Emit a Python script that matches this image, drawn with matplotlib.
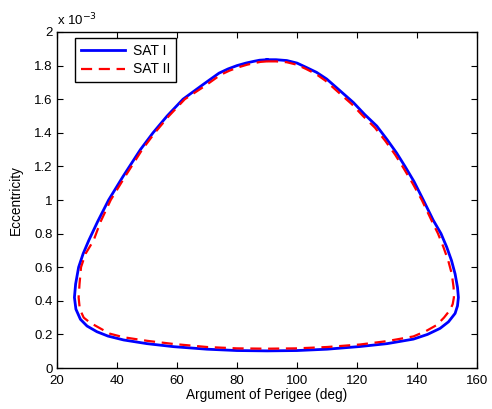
import numpy as np
import matplotlib
matplotlib.use('Agg')
import matplotlib.pyplot as plt
from matplotlib.ticker import FuncFormatter

plt.rcParams['font.family'] = ['Liberation Sans', 'DejaVu Sans']

# argument of perigee (deg) and eccentricity (x 1e-3)
sat1_omega = [90, 93, 96.6, 100, 103, 106.5, 109.9, 115, 118.8, 122.5, 126.6, 130, 133.2,
              136, 139, 142.1, 145.4, 148, 149.9, 151.5, 152.7, 153.5, 153.8, 153.5, 152.7,
              150.5, 147.7, 143.5, 138.8, 130, 121, 110, 100, 90, 80, 70, 58.9, 50, 42.2,
              37, 33.3, 30, 27.8, 26.3, 25.8, 26.2, 27.2, 28.7, 30.6, 33.5, 37.2, 42, 47.8,
              52, 56.7, 62, 68.9, 74, 77, 80, 83, 85.5, 87.5, 90]
sat1_ecc = [1.835, 1.835, 1.83, 1.815, 1.79, 1.76, 1.72, 1.64, 1.58, 1.51, 1.44, 1.36, 1.28,
            1.20, 1.11, 1.0, 0.88, 0.80, 0.72, 0.64, 0.56, 0.48, 0.42, 0.37, 0.325,
            0.275, 0.236, 0.20, 0.172, 0.145, 0.128, 0.112, 0.104, 0.102, 0.104, 0.112,
            0.127, 0.145, 0.167, 0.19, 0.216, 0.25, 0.29, 0.35, 0.42, 0.50, 0.60, 0.68,
            0.76, 0.87, 1.0, 1.14, 1.30, 1.40, 1.50, 1.60, 1.69, 1.755, 1.78, 1.80, 1.815,
            1.825, 1.832, 1.835]

sat2_omega = [90, 93, 96.6, 100, 103, 106.3, 109.5, 114.5, 118.3, 122, 126, 129.5, 132.7,
              135.5, 138.5, 141.6, 144.8, 147, 148.8, 150.4, 151.6, 152.2, 152.3, 151.9,
              151, 149, 146.6, 143, 138.8, 130, 121, 110, 100, 90, 80, 70, 58.9, 50, 42.2,
              37.5, 34.4, 31, 28.9, 27.6, 27.2, 27.5, 28.0, 29.5, 32.2, 34.5, 37.9, 42.7,
              48.4, 52.6, 57.3, 62.6, 69.4, 74.5, 77.5, 80.5, 83.3, 85.8, 87.8, 90]
sat2_ecc = [1.825, 1.825, 1.82, 1.805, 1.78, 1.75, 1.71, 1.63, 1.57, 1.50, 1.43, 1.35, 1.27,
            1.19, 1.10, 1.0, 0.88, 0.80, 0.72, 0.64, 0.56, 0.48, 0.42, 0.38, 0.345, 0.30,
            0.256, 0.22, 0.188, 0.16, 0.14, 0.125, 0.117, 0.115, 0.117, 0.125, 0.143,
            0.162, 0.183, 0.205, 0.236, 0.27, 0.30, 0.35, 0.42, 0.50, 0.60, 0.68, 0.76,
            0.87, 1.0, 1.14, 1.30, 1.40, 1.50, 1.60, 1.68, 1.745, 1.77, 1.79, 1.805, 1.815,
            1.822, 1.825]

labels = ['SAT I', 'SAT II']

fig = plt.figure(figsize=(4.92, 4.09), dpi=100)
ax = fig.add_axes([0.1159, 0.1002, 0.8536, 0.8216])

ax.plot(sat1_omega, np.array(sat1_ecc) * 1e-3, color='#0000ff', lw=2.0, label=labels[0])
ax.plot(sat2_omega, np.array(sat2_ecc) * 1e-3, color='#ff0000', lw=1.6,
        ls=(0, (5, 3)), label=labels[1])

ax.set_xlim(20, 160)
ax.set_ylim(0, 2e-3)
ax.set_xticks(np.arange(20, 161, 20))
ax.set_yticks(np.arange(0, 2.01e-3, 0.2e-3))
ax.yaxis.set_major_formatter(FuncFormatter(lambda v, p: '%g' % round(v * 1e3, 4)))
ax.tick_params(direction='in', top=True, right=True, length=4, width=0.8,
               labelsize=9.5)
ax.tick_params(axis='x', pad=5)
ax.tick_params(axis='y', pad=3)
for s in ax.spines.values():
    s.set_linewidth(1.0)

ax.text(0, 1.012, r'x 10$^{-3}$', transform=ax.transAxes, fontsize=9.5,
        ha='left', va='bottom')

ax.set_xlabel('Argument of Perigee (deg)', fontsize=9.8, labelpad=1)
ax.set_ylabel('Eccentricity', fontsize=9.8, labelpad=8)

leg = ax.legend(loc='upper left', bbox_to_anchor=(0.043, 0.982), borderaxespad=0,
                fontsize=10, handlelength=3.2, fancybox=False, framealpha=1,
                edgecolor='black', borderpad=0.4, labelspacing=0.35, handletextpad=0.6)
leg.get_frame().set_linewidth(1.0)

fig.savefig('out.png', dpi=100)
